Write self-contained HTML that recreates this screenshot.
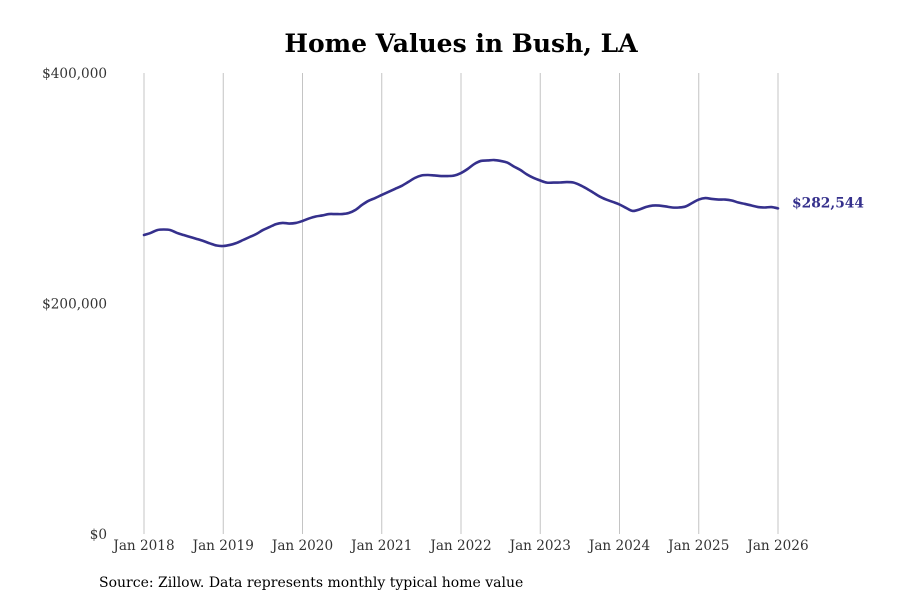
<!DOCTYPE html>
<html><head><meta charset="utf-8"><style>
body{margin:0;background:#fff;width:900px;height:600px;overflow:hidden}
svg text{font-family:"DejaVu Serif","Liberation Serif",serif}
</style></head><body>
<svg id="chart" width="900" height="600" xmlns="http://www.w3.org/2000/svg">
<text x="461" y="52" text-anchor="middle" font-size="25" font-weight="bold" fill="#000">Home Values in Bush, LA</text>
<g id="grid"></g><g id="yaxis"></g><g id="xaxis"></g><g id="series"></g>
<text x="99" y="587" font-size="14" fill="#000">Source: Zillow. Data represents monthly typical home value</text>
</svg>
<script>
const yTicks=[0,200000,400000];
const yTickLabels=["$0","$200,000","$400,000"];
const xTickYears=[2018,2019,2020,2021,2022,2023,2024,2025,2026];
const xTickLabels=["Jan 2018","Jan 2019","Jan 2020","Jan 2021","Jan 2022","Jan 2023","Jan 2024","Jan 2025","Jan 2026"];
const startYear=2018;
const values=[
259400,261200,263700,264200,263700,261200,259400,257700,256000,254200,252100,250300,
249900,250800,252500,255100,257700,260300,263700,266300,268900,269900,269400,269900,
271600,273800,275500,276400,277600,277600,277600,278500,281100,285500,289100,291500,
294200,296800,299400,302000,305400,308900,311100,311500,311100,310600,310600,311100,
313200,316700,321000,323700,324100,324500,323700,322300,318900,315800,311900,308900,
306700,304900,304900,305000,305400,305000,302800,299800,296300,292800,290200,288100,
285900,282900,280300,281600,283700,285000,285000,284200,283300,283300,284200,287200,
290200,291500,290700,290200,290200,289400,287600,286400,285000,283700,283300,283700,
282544];
const lastLabel="$282,544";
const NS="http://www.w3.org/2000/svg";
const x0=144,x1=778,yBase=534,yTop=73;
function xs(monthIndex){return x0+(x1-x0)*monthIndex/96;}
function ys(v){return yBase-(yBase-yTop)*v/400000;}
function mk(tag,attrs,parent){const e=document.createElementNS(NS,tag);for(const k in attrs)e.setAttribute(k,attrs[k]);document.getElementById(parent).appendChild(e);return e;}
xTickYears.forEach((yr,i)=>{
  const x=xs((yr-startYear)*12);
  const l=mk('line',{x1:x,x2:x,y1:yTop,y2:yBase,stroke:'#c4c4c4','stroke-width':1},'grid');
  
  
  const t=mk('text',{x:x,y:550,'text-anchor':'middle','font-size':13.6,fill:'#333'},'xaxis');
  t.textContent=xTickLabels[i];
  
  
});
yTicks.forEach((v,i)=>{
  const t=mk('text',{x:107,y:ys(v)+5,'text-anchor':'end','font-size':13.6,fill:'#333'},'yaxis');
  t.textContent=yTickLabels[i];
  
  
});
const pts=values.map((v,i)=>[xs(i),ys(v)]);
let d='M'+pts[0][0]+','+pts[0][1];
for(let i=1;i<pts.length;i++){
  const p0=pts[Math.max(0,i-2)],p1=pts[i-1],p2=pts[i],p3=pts[Math.min(pts.length-1,i+1)];
  const c1x=p1[0]+(p2[0]-p0[0])/6,c1y=p1[1]+(p2[1]-p0[1])/6;
  const c2x=p2[0]-(p3[0]-p1[0])/6,c2y=p2[1]-(p3[1]-p1[1])/6;
  d+=' C'+c1x+','+c1y+' '+c2x+','+c2y+' '+p2[0]+','+p2[1];
}
const path=mk('path',{d:d,fill:'none',stroke:'#35308c','stroke-width':2.6,'stroke-linejoin':'round','stroke-linecap':'round'},'series');


const last=pts[pts.length-1];
const lt=mk('text',{x:last[0]+14,y:last[1]-1,'font-size':13.8,'font-weight':'bold',fill:'#35308c'},'series');
lt.textContent=lastLabel;


</script>
</body></html>
